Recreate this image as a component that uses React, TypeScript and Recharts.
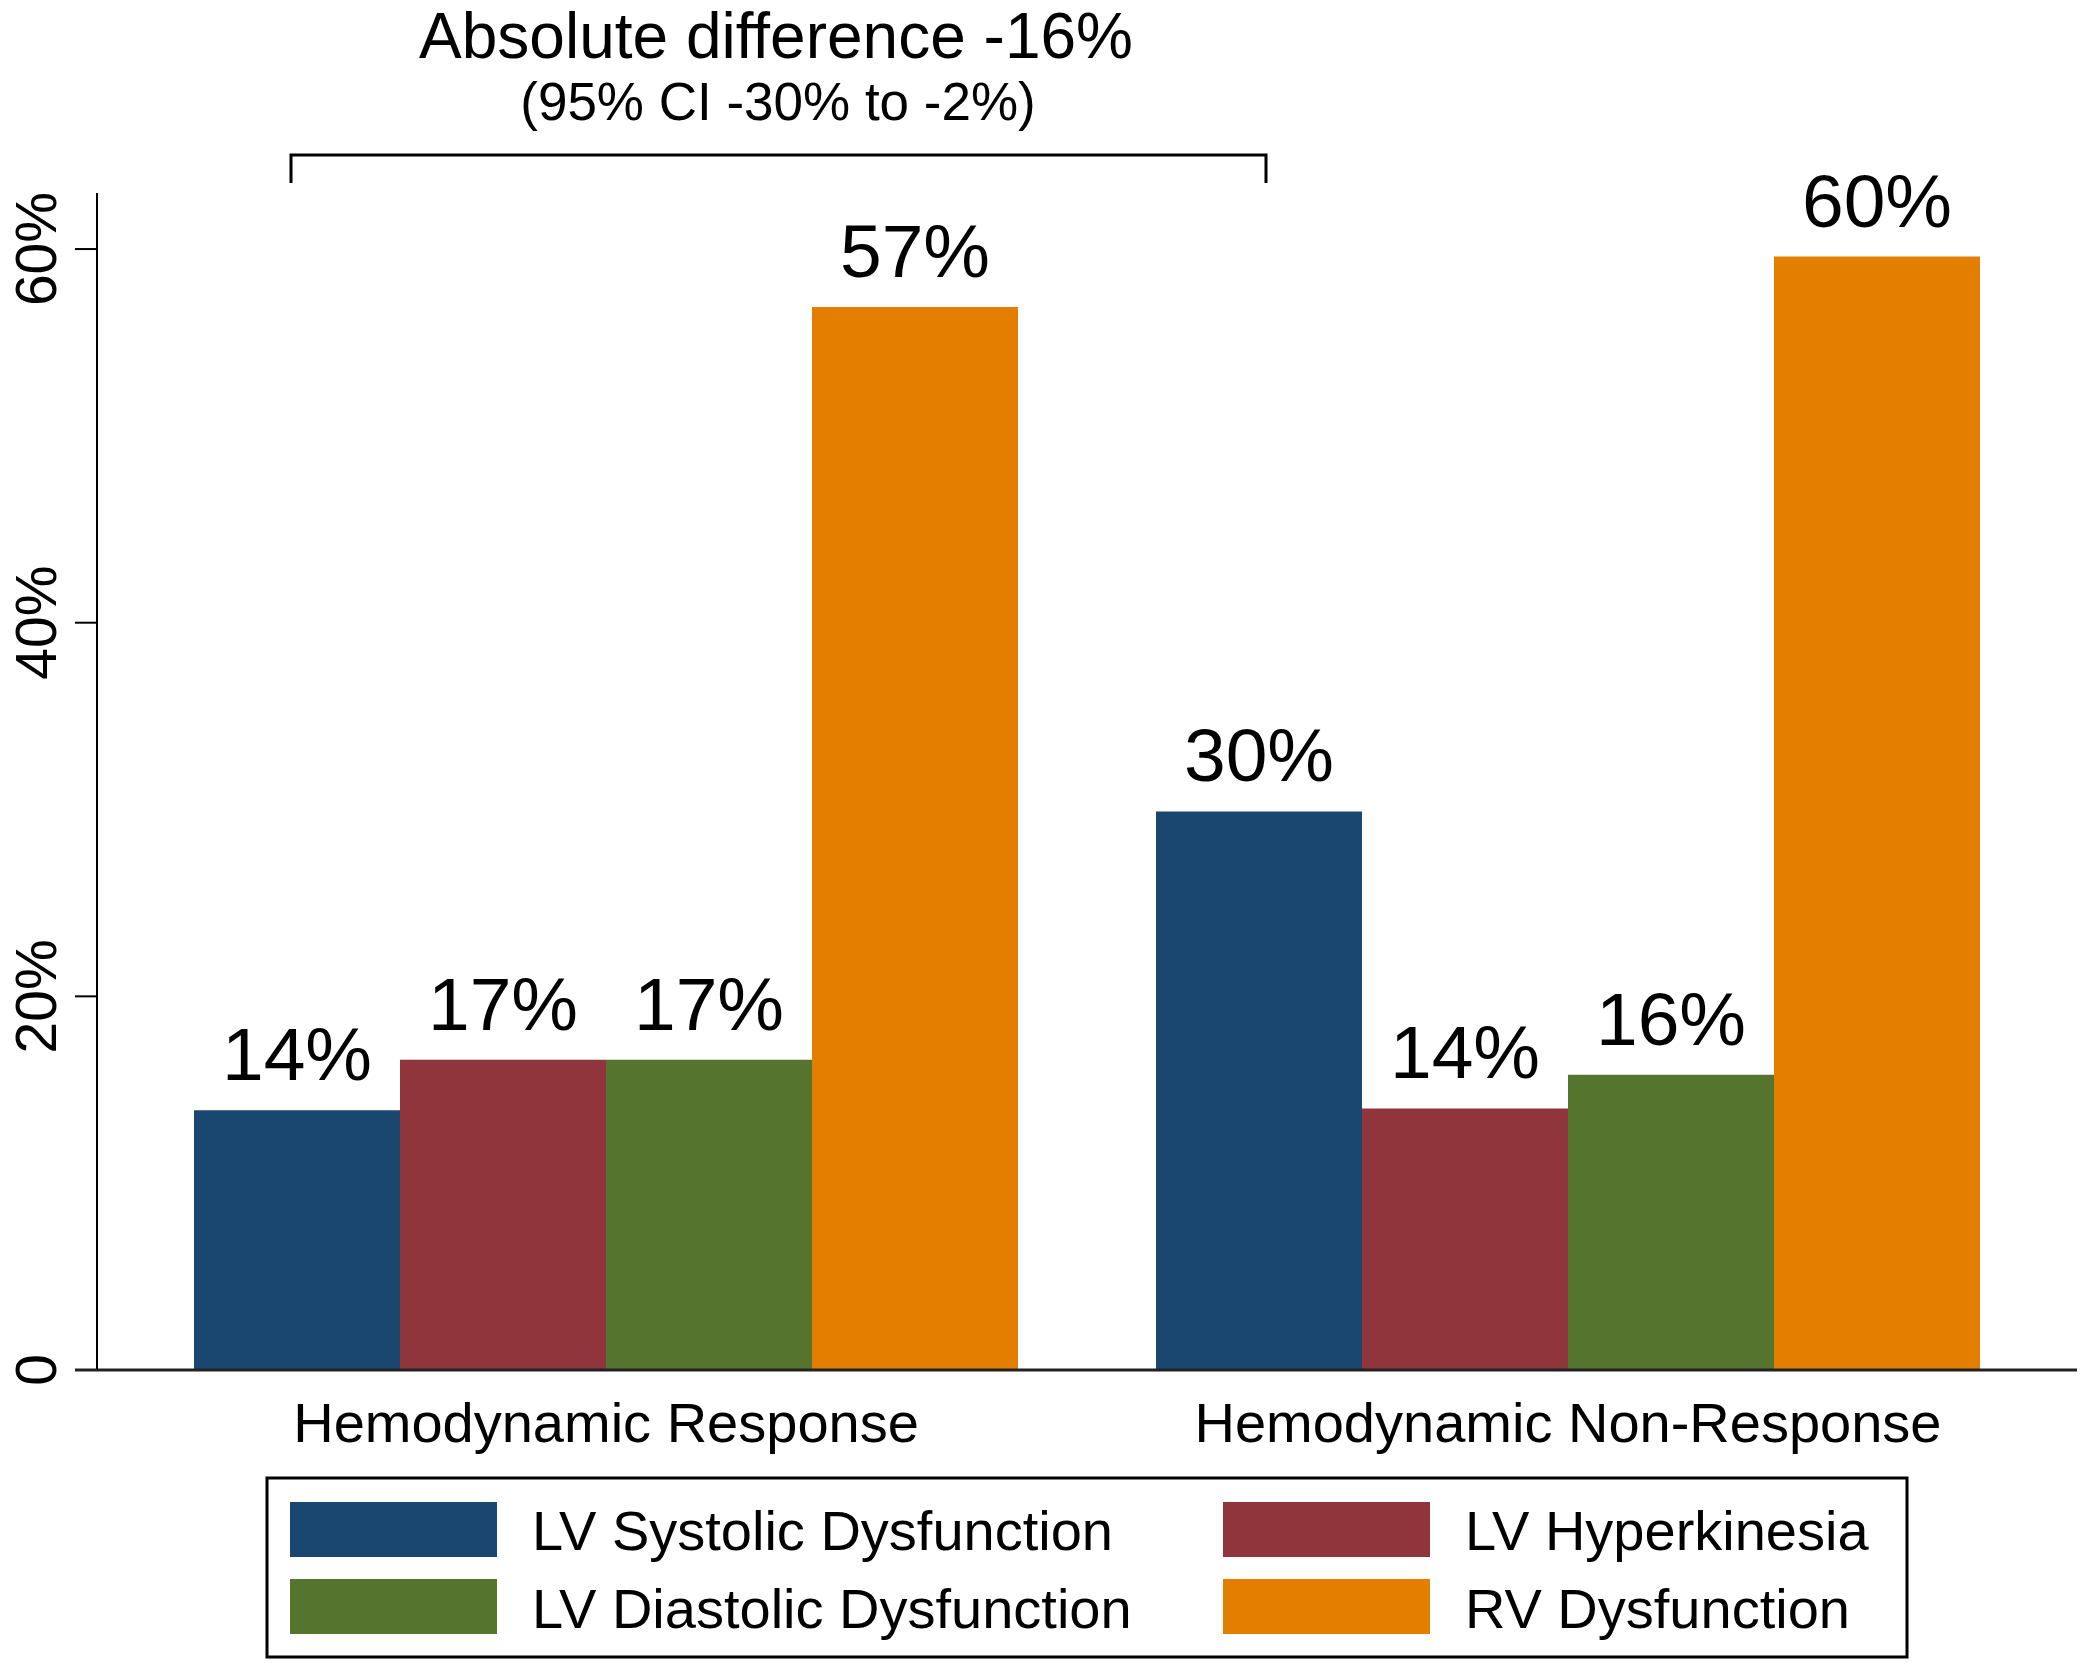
import { BarChart, Bar, XAxis, YAxis, LabelList } from "recharts";

const categories = ["Hemodynamic Response", "Hemodynamic Non-Response"];
const lvSystolic = [13.9, 29.9];
const lvHyperkinesia = [16.6, 14.0];
const lvDiastolic = [16.6, 15.8];
const rvDysfunction = [56.9, 59.6];

const yTicks = [0, 20, 40, 60];
const yTickLabels = ["0", "20%", "40%", "60%"];

const seriesNames = [
  "LV Systolic Dysfunction",
  "LV Hyperkinesia",
  "LV Diastolic Dysfunction",
  "RV Dysfunction",
];
const seriesKeys = ["systolic", "hyper", "diastolic", "rv"];
const seriesColors = ["#1a476f", "#90353b", "#55752f", "#e37e00"];

const titleText = "Absolute difference -16%";
const subtitleText = "(95% CI -30% to -2%)";

const data = categories.map((name, i) => ({
  name,
  systolic: lvSystolic[i],
  hyper: lvHyperkinesia[i],
  diastolic: lvDiastolic[i],
  rv: rvDysfunction[i],
}));

const FONT = "'Liberation Sans', Arial, sans-serif";
const W = 2085;
const H = 1667;

function formatPct(v: number): string {
  return `${Math.round(v)}%`;
}

function YTick(props: any) {
  const { x, y, payload } = props;
  const idx = yTicks.indexOf(payload.value);
  return (
    <text
      x={x}
      y={y}
      transform={`rotate(-90, ${x}, ${y})`}
      textAnchor="middle"
      fontSize={57}
      fontFamily={FONT}
      fill="#000"
    >
      {idx >= 0 ? yTickLabels[idx] : payload.value}
    </text>
  );
}

function XTick(props: any) {
  const { x, y, payload } = props;
  return (
    <text x={x} y={y + 72} textAnchor="middle" fontSize={56} fontFamily={FONT} fill="#000">
      {payload.value}
    </text>
  );
}

// legend cell layout: two columns, two rows
const legendCells = [
  { col: 0, row: 0 },
  { col: 1, row: 0 },
  { col: 0, row: 1 },
  { col: 1, row: 1 },
];

export default function App() {
  return (
    <div style={{ position: "absolute", left: 0, top: 0, width: W, height: H, background: "#fff" }}>
      <BarChart
        width={W}
        height={H}
        data={data}
        margin={{ top: 193, right: 8, left: 0, bottom: 217 }}
        barCategoryGap={69}
        barGap={0}
      >
        <XAxis
          dataKey="name"
          height={80}
          padding={{ left: 28, right: 28 }}
          tickLine={false}
          tickSize={0}
          tickMargin={0}
          tick={<XTick />}
          axisLine={{ stroke: "#222", strokeWidth: 3 }}
          interval={0}
        />
        <YAxis
          width={97}
          domain={[0, 63]}
          ticks={yTicks}
          allowDataOverflow
          tickSize={22}
          tickMargin={19}
          tick={<YTick />}
          tickLine={{ stroke: "#000", strokeWidth: 2 }}
          axisLine={{ stroke: "#000", strokeWidth: 2 }}
        />
        {seriesKeys.map((k, i) => (
          <Bar key={k} dataKey={k} name={seriesNames[i]} fill={seriesColors[i]} isAnimationActive={false}>
            <LabelList
              dataKey={k}
              position="top"
              offset={30}
              formatter={(v: any) => formatPct(Number(v))}
              style={{ fontSize: 75, fontFamily: FONT, fill: "#000" }}
            />
          </Bar>
        ))}
      </BarChart>

      <svg
        width={W}
        height={H}
        style={{ position: "absolute", left: 0, top: 0, pointerEvents: "none" }}
      >
        {/* title + bracket */}
        <text x={776} y={58} textAnchor="middle" fontSize={64} fontFamily={FONT} fill="#000">
          {titleText}
        </text>
        <text x={778} y={120} textAnchor="middle" fontSize={53} fontFamily={FONT} fill="#000">
          {subtitleText}
        </text>
        <path d="M291 183 V155 H1266 V183" fill="none" stroke="#000" strokeWidth={3} />

        {/* x axis stub left of y axis */}
        <line x1={75} y1={1370} x2={97} y2={1370} stroke="#222" strokeWidth={3} />

        {/* legend */}
        <rect x={267} y={1478} width={1640} height={179} fill="#fff" stroke="#000" strokeWidth={3} />
        {seriesNames.map((name, i) => {
          const c = legendCells[i];
          const sx = c.col === 0 ? 290 : 1223;
          const sy = c.row === 0 ? 1502 : 1579;
          const tx = c.col === 0 ? 532 : 1465;
          const ty = c.row === 0 ? 1550 : 1628;
          return (
            <g key={name}>
              <rect x={sx} y={sy} width={207} height={55} fill={seriesColors[i]} />
              <text x={tx} y={ty} fontSize={56} fontFamily={FONT} fill="#000">
                {name}
              </text>
            </g>
          );
        })}
      </svg>
    </div>
  );
}
